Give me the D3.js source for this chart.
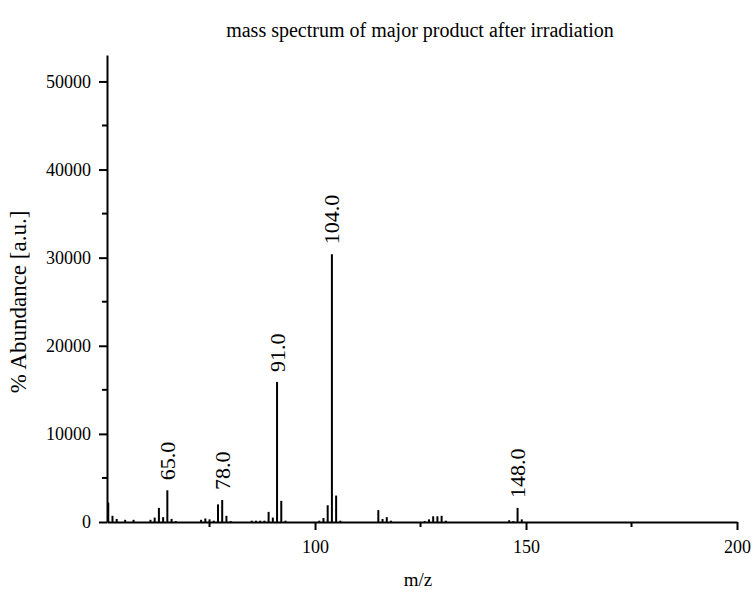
<!DOCTYPE html>
<html>
<head>
<meta charset="utf-8">
<script src="https://cdn.jsdelivr.net/npm/d3@7"></script>
<style>
  body { margin: 0; background: #fff; }
  svg { font-family: "Liberation Serif", "Times New Roman", serif; }
</style>
</head>
<body>
<svg width="755" height="594"></svg>
<script>
// peaks (m/z, abundance)
var mzValues = [51, 52, 53, 55, 57, 61, 62, 63, 64, 65, 66, 67, 73, 74, 75, 76, 77, 78, 79, 80,
  85, 86, 87, 88, 89, 90, 91, 92, 93, 101, 102, 103, 104, 105, 106, 115, 116, 117, 118,
  126, 127, 128, 129, 130, 131, 146, 147, 148, 149];
var abundance = [2200, 700, 350, 250, 250, 250, 500, 1600, 550, 3600, 350, 100, 250, 400, 300, 150, 2000, 2500, 700, 100,
  150, 150, 150, 150, 1150, 500, 15900, 2400, 150, 150, 450, 1900, 30400, 3000, 150, 1350, 350, 550, 150,
  100, 300, 650, 650, 700, 150, 200, 100, 1600, 300];
var labelledPeaks = [65, 78, 91, 104, 148];

var xMajor = [100, 150, 200];
var xMinor = [75, 125, 175];
var yMajor = [0, 10000, 20000, 30000, 40000, 50000];
var yMinor = [5000, 15000, 25000, 35000, 45000];

var peaks = mzValues.map(function(d, i) { return {mz: d, value: abundance[i]}; });

var margin = {top: 55, right: 18, bottom: 72, left: 107};
var width = 755, height = 594;

var svg = d3.select('svg');

var x = d3.scaleLinear()
  .domain([50.7, 200])
  .range([margin.left, width - margin.right]);

var y = d3.scaleLinear()
  .domain([0, 53000])
  .range([height - margin.bottom, margin.top]);

// peaks
svg.selectAll('.peak')
  .data(peaks)
  .enter().append('line')
  .attr('class', 'peak')
  .attr('x1', function(d) { return x(d.mz); })
  .attr('x2', function(d) { return x(d.mz); })
  .attr('y1', y(0))
  .attr('y2', function(d) { return y(d.value); })
  .attr('stroke', 'black')
  .attr('stroke-width', 2);

// peak labels
svg.selectAll('.peakLabel')
  .data(peaks.filter(function(d) { return labelledPeaks.indexOf(d.mz) >= 0; }))
  .enter().append('text')
  .attr('class', 'peakLabel')
  .attr('transform', function(d) {
    return 'translate(' + (x(d.mz) + 7.5) + ',' + (y(d.value) - 10) + ') rotate(-90)';
  })
  .style('font-size', '22px')
  .text(function(d) { return d.mz.toFixed(1); });

// x axis
var xAxis = svg.append('g')
  .attr('transform', 'translate(0,' + y(0) + ')');
xAxis.call(d3.axisBottom(x).tickValues(xMajor).tickSize(8).tickSizeOuter(0).tickPadding(10))
  .style('font-size', '18px')
  .style('font-family', 'inherit');
xAxis.selectAll('.minor')
  .data(xMinor)
  .enter().append('line')
  .attr('class', 'minor')
  .attr('x1', function(d) { return x(d); })
  .attr('x2', function(d) { return x(d); })
  .attr('y1', 0)
  .attr('y2', 5)
  .attr('stroke', 'black')
  .attr('stroke-width', 2);

// y axis
var yAxis = svg.append('g')
  .attr('transform', 'translate(' + margin.left + ',0)');
yAxis.call(d3.axisLeft(y).tickValues(yMajor).tickFormat(d3.format('d')).tickSize(8).tickSizeOuter(0).tickPadding(8))
  .style('font-size', '18px')
  .style('font-family', 'inherit');
yAxis.selectAll('.minor')
  .data(yMinor)
  .enter().append('line')
  .attr('class', 'minor')
  .attr('x1', -5)
  .attr('x2', 0)
  .attr('y1', function(d) { return y(d); })
  .attr('y2', function(d) { return y(d); })
  .attr('stroke', 'black')
  .attr('stroke-width', 2);

svg.selectAll('.domain').attr('stroke-width', 2);
svg.selectAll('.tick line').attr('stroke-width', 2);
svg.selectAll('.tick text').attr('fill', 'black');

// titles
svg.append('text')
  .attr('x', 420)
  .attr('y', 37)
  .attr('text-anchor', 'middle')
  .style('font-size', '20px')
  .text('mass spectrum of major product after irradiation');

svg.append('text')
  .attr('x', 418)
  .attr('y', 586)
  .attr('text-anchor', 'middle')
  .style('font-size', '19px')
  .text('m/z');

svg.append('text')
  .attr('transform', 'translate(26,' + 302 + ') rotate(-90)')
  .attr('text-anchor', 'middle')
  .style('font-size', '23px')
  .text('% Abundance [a.u.]');
</script>
</body>
</html>
